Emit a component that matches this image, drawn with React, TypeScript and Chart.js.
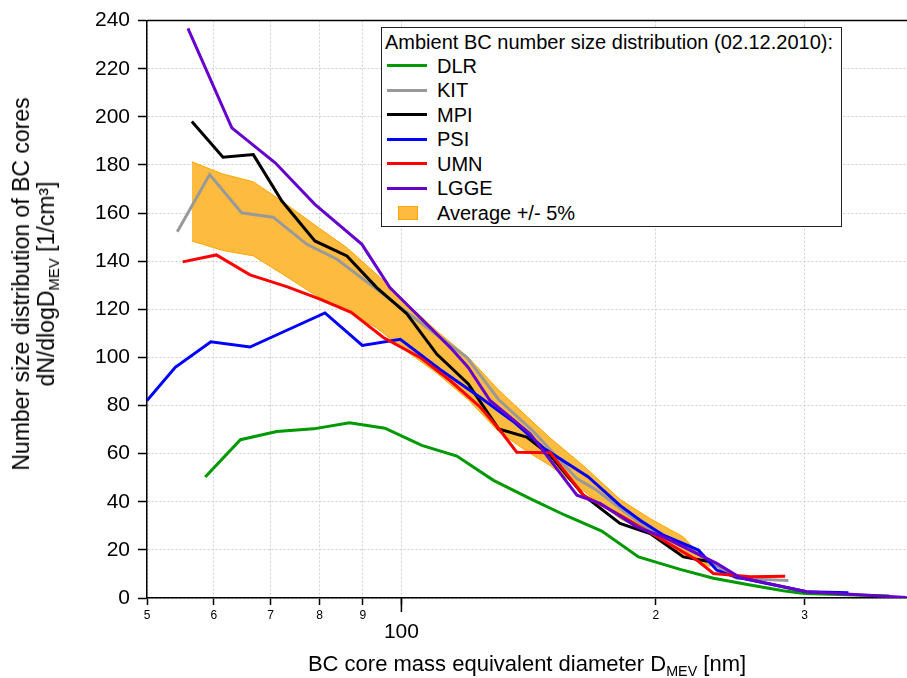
import React, { useEffect, useRef } from 'react';
import { Chart, registerables } from 'chart.js';

Chart.register(...registerables);

// ---- Data (diameter D_MEV in nm, dN/dlogD in 1/cm³) ----
const dlrD = [58.6, 64.5, 71.2, 78.7, 86.8, 95.6, 105.7, 116.3, 128.5, 142.0, 156.2, 172.6, 190.8, 213.7, 234, 258.6, 283, 300, 378];
const dlrN = [50.3, 65.8, 69.2, 70.3, 72.8, 70.6, 63.4, 59.0, 48.9, 41.3, 34.4, 27.8, 17.1, 11.9, 8.2, 5.4, 3.0, 1.9, 0.8];

const kitD = [54.3, 59.3, 64.7, 70.5, 77.3, 83.9, 93.5, 101.5, 110.1, 119.5, 130.3, 143.3, 161.3, 170.3, 184.8, 198.6, 217.6, 229.9, 249.4, 287];
const kitN = [152.2, 176.0, 160.1, 158.3, 147.0, 140.8, 128.3, 118.8, 109.4, 100.0, 82.5, 69.2, 49.6, 44.8, 35.1, 27.5, 21.3, 15.8, 8.2, 7.3];

const mpiD = [56.5, 61.5, 66.8, 72.2, 79.0, 86.2, 93.5, 101.5, 110.1, 120.0, 130.3, 140.7, 150.0, 164.2, 181.4, 196.9, 215.6, 231.9];
const mpiN = [198.1, 183.2, 184.3, 165.0, 148.4, 142.2, 129.0, 118.1, 101.4, 89.0, 70.3, 66.9, 59.3, 42.7, 31.0, 26.8, 17.1, 15.1];

const psiD = [50.0, 54.0, 59.5, 66.2, 73.3, 81.2, 89.9, 99.7, 111.1, 124.0, 136.4, 147.7, 166.4, 181.4, 191.6, 204.2, 224.6, 236.1, 248.2, 301.7, 338];
const psiN = [82.1, 95.9, 106.5, 104.3, 111.4, 118.5, 105.0, 107.5, 95.0, 83.3, 72.7, 62.0, 50.3, 38.5, 32.3, 26.1, 19.9, 11.6, 8.8, 2.6, 2.2];

const umnD = [55.1, 60.4, 66.2, 73.3, 80.1, 87.2, 95.2, 105.2, 114.2, 124.0, 130.9, 136.9, 150.0, 164.2, 181.4, 204, 223.6, 234, 258.6, 284.5];
const umnN = [139.7, 142.6, 134.3, 129.3, 124.2, 118.7, 108.3, 100.0, 90.4, 79.3, 69.6, 60.6, 60.4, 42.7, 34.5, 24.0, 15.8, 10.2, 8.8, 9.0];

const lggeD = [55.9, 63.0, 70.9, 79.0, 89.8, 96.9, 105.2, 114.2, 119.9, 127.3, 142.0, 161.3, 171.8, 189.9, 204, 236.1, 251.6, 301.7, 396];
const lggeN = [236.8, 195.4, 180.9, 163.6, 147.0, 129.0, 116.6, 104.2, 95.9, 82.1, 68.3, 42.7, 39.3, 29.6, 25.4, 14.4, 8.5, 2.6, 0.2];

const bandD = [56.5, 61.4, 66.8, 72.2, 79.0, 86.2, 93.5, 101.5, 110.1, 120.0, 130.3, 140.7, 150.0, 164.2, 181.4, 196.9, 215.6, 232.0];
const bandUpper = [181.3, 176.3, 173.0, 165.0, 155.0, 145.6, 134.5, 122.5, 111.0, 100.0, 86.5, 75.5, 66.5, 55.0, 41.0, 33.0, 25.4, 13.5];
const bandLower = [148.4, 144.5, 142.2, 134.8, 126.0, 119.4, 112.2, 102.5, 93.5, 82.4, 69.2, 61.0, 55.0, 44.5, 33.0, 26.5, 18.0, 13.0];

const xTickValues = [50, 60, 70, 80, 90, 100, 200, 300];
const xTickLabels = ['5', '6', '7', '8', '9', '100', '2', '3'];
const xMin = 50;
const xMax = 396.5;
const yMin = 0;
const yMax = 240;
const yStep = 20;

const seriesNames = ['DLR', 'KIT', 'MPI', 'PSI', 'UMN', 'LGGE'];
const seriesColors = ['#009900', '#999999', '#000000', '#0000FF', '#FF0000', '#6600CC'];
const bandLabel = 'Average +/- 5%';
const legendTitle = 'Ambient BC number size distribution (02.12.2010):';

const FONT = "'Liberation Sans', Arial, Helvetica, sans-serif";
const BAND_FILL = '#FDBB40';
const BAND_EDGE = '#FFA500';

function pts(d: number[], n: number[]) {
  return d.map((x, i) => ({ x, y: n[i] }));
}

export default function App() {
  const ref = useRef<HTMLCanvasElement>(null);

  useEffect(() => {
    if (!ref.current) return;
    const seriesData = [
      [dlrD, dlrN],
      [kitD, kitN],
      [mpiD, mpiN],
      [psiD, psiN],
      [umnD, umnN],
      [lggeD, lggeN],
    ];
    const lineSets = seriesData.map(([d, n], i) => ({
      label: seriesNames[i],
      data: pts(d, n),
      borderColor: seriesColors[i],
      backgroundColor: seriesColors[i],
      borderWidth: 3,
      pointRadius: 0,
      fill: false,
      tension: 0,
      order: 6 - i,
    }));

    const framePlugin = {
      id: 'frame',
      afterDraw(chart: any) {
        const { ctx, chartArea, scales } = chart;
        const xs = scales.x;
        ctx.save();
        ctx.strokeStyle = '#000';
        ctx.lineWidth = 1.5;
        ctx.beginPath();
        ctx.moveTo(chartArea.left, chartArea.top);
        ctx.lineTo(chartArea.right, chartArea.top);
        ctx.stroke();
        const px = xs.getPixelForValue(100);
        ctx.beginPath();
        ctx.moveTo(px, chartArea.bottom);
        ctx.lineTo(px, chartArea.bottom + 14);
        ctx.stroke();
        ctx.font = `21px ${FONT}`;
        ctx.fillStyle = '#000';
        ctx.textAlign = 'center';
        ctx.textBaseline = 'middle';
        ctx.fillText(xTickLabels[xTickValues.indexOf(100)], px, chartArea.bottom + 34);
        ctx.restore();
      },
    };

    const gridCommon = {
      color: '#cfcfcf',
      lineWidth: 1,
      tickColor: '#000',
      tickWidth: 1.5,
      tickBorderDash: [],
      drawTicks: true,
    };

    const chart = new Chart(ref.current, {
      type: 'line',
      data: {
        datasets: [
          ...lineSets,
          {
            label: bandLabel + ' upper',
            data: pts(bandD, bandUpper),
            borderColor: BAND_EDGE,
            backgroundColor: BAND_FILL,
            borderWidth: 1,
            pointRadius: 0,
            fill: '+1',
            tension: 0,
            order: 8,
          },
          {
            label: bandLabel + ' lower',
            data: pts(bandD, bandLower),
            borderColor: BAND_EDGE,
            backgroundColor: BAND_FILL,
            borderWidth: 1,
            pointRadius: 0,
            fill: false,
            tension: 0,
            order: 9,
          },
        ] as any,
      },
      options: {
        responsive: false,
        animation: false,
        devicePixelRatio: 1,
        layout: { padding: { top: 18, right: 0, left: 0, bottom: 0 } },
        plugins: {
          legend: { display: false },
          tooltip: { enabled: false },
          filler: { drawTime: 'beforeDatasetsDraw' },
        } as any,
        scales: {
          x: {
            type: 'logarithmic',
            min: xMin,
            max: xMax,
            bounds: 'data',
            afterBuildTicks: (s: any) => {
              s.ticks = xTickValues.map((v) => ({ value: v }));
            },
            afterFit: (s: any) => {
              s.height = 80;
            },
            ticks: {
              autoSkip: false,
              maxRotation: 0,
              minRotation: 0,
              padding: 3,
              color: '#000',
              font: { family: FONT, size: 12 },
              callback: (v: any) => {
                const i = xTickValues.indexOf(Number(v));
                if (i < 0 || xTickValues[i] === 100) return '';
                return xTickLabels[i];
              },
            },
            grid: { ...gridCommon, tickLength: 7 },
            border: { display: true, color: '#000', width: 1.5, dash: [2, 2] },
          },
          y: {
            type: 'linear',
            min: yMin,
            max: yMax,
            afterFit: (s: any) => {
              s.width = 147;
            },
            ticks: {
              stepSize: yStep,
              padding: 8,
              color: '#000',
              font: { family: FONT, size: 21 },
            },
            grid: { ...gridCommon, tickLength: 9 },
            border: { display: true, color: '#000', width: 1.5, dash: [2, 2] },
          },
        } as any,
      },
      plugins: [framePlugin],
    });
    return () => chart.destroy();
  }, []);

  const rowH = 24.5;
  return (
    <div style={{ position: 'absolute', left: 0, top: 0, width: 907, height: 678, fontFamily: FONT, color: '#000', background: '#fff', overflow: 'hidden' }}>
      <canvas ref={ref} width={907} height={678} style={{ position: 'absolute', left: 0, top: 0, width: 907, height: 678 }} />
      {/* Y axis title */}
      <div
        style={{
          position: 'absolute',
          left: 34.5,
          top: 284,
          transform: 'translate(-50%, -50%) rotate(-90deg)',
          fontSize: 23,
          lineHeight: '25px',
          textAlign: 'center',
          whiteSpace: 'nowrap',
        }}
      >
        Number size distribution of BC cores
        <br />
        dN/dlogD<span style={{ fontSize: '0.65em', position: 'relative', top: '0.35em' }}>MEV</span> [1/cm³]
      </div>
      {/* X axis title */}
      <div
        style={{
          position: 'absolute',
          left: 527,
          top: 665,
          transform: 'translate(-50%, -50%)',
          fontSize: 22,
          lineHeight: '24px',
          whiteSpace: 'nowrap',
        }}
      >
        BC core mass equivalent diameter D<span style={{ fontSize: '0.65em', position: 'relative', top: '0.35em' }}>MEV</span> [nm]
      </div>
      {/* Legend */}
      <div
        style={{
          position: 'absolute',
          left: 381,
          top: 27,
          border: '1.5px solid #222',
          background: '#fff',
          padding: '1.5px 8px 1px 3px',
          fontSize: 20,
          whiteSpace: 'nowrap',
        }}
      >
        <div style={{ height: 24, lineHeight: '24px' }}>{legendTitle}</div>
        {seriesNames.map((name, i) => (
          <div key={name} style={{ height: rowH, display: 'flex', alignItems: 'center' }}>
            <div style={{ width: 52, height: rowH, position: 'relative' }}>
              <div style={{ position: 'absolute', left: 1.5, top: rowH / 2 - 1.5, width: 40, height: 3, background: seriesColors[i] }} />
            </div>
            <span style={{ lineHeight: '24px' }}>{name}</span>
          </div>
        ))}
        <div style={{ height: rowH, display: 'flex', alignItems: 'center' }}>
          <div style={{ width: 52, height: rowH, position: 'relative' }}>
            <div
              style={{
                position: 'absolute',
                left: 12.5,
                top: rowH / 2 - 7,
                width: 20,
                height: 14,
                background: BAND_FILL,
                border: `1px solid ${BAND_EDGE}`,
                boxSizing: 'border-box',
              }}
            />
          </div>
          <span style={{ lineHeight: '24px' }}>{bandLabel}</span>
        </div>
      </div>
    </div>
  );
}
